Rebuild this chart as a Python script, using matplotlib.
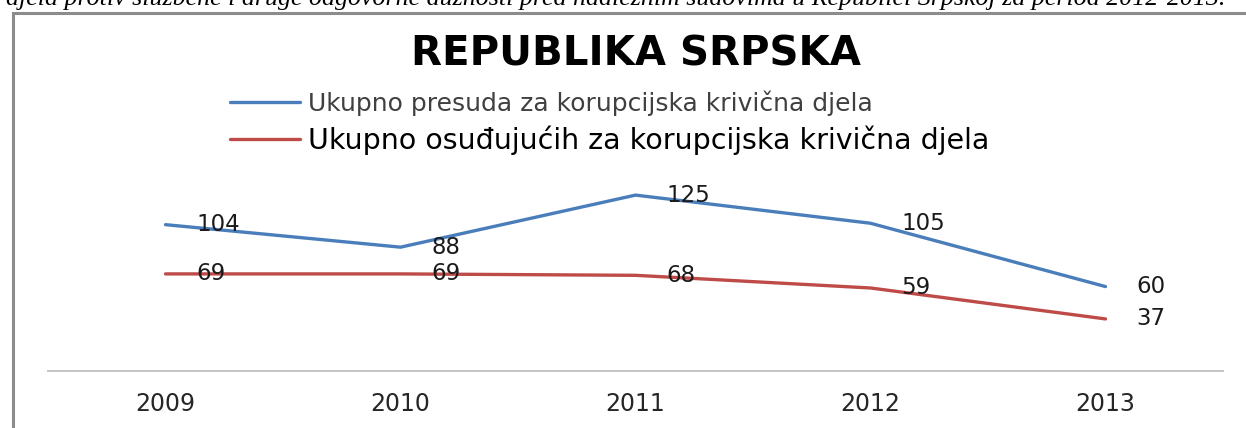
import matplotlib.pyplot as plt
from matplotlib.patches import Rectangle

# podaci
godine = ["2009", "2010", "2011", "2012", "2013"]
presude = [104, 88, 125, 105, 60]
osudjujuce = [69, 69, 68, 59, 37]
naziv_presude = "Ukupno presuda za korupcijska krivična djela"
naziv_osudjujuce = "Ukupno osuđujućih za korupcijska krivična djela"
naslov = "REPUBLIKA SRPSKA"
opis = ("djela protiv službene i druge odgovorne dužnosti pred nadležnim sudovima "
        "u Republici Srpskoj za period 2012-2013.")

W, H = 1246, 428
fig = plt.figure(figsize=(W / 100, H / 100), dpi=100)

# okvir grafikona (vidi se samo lijeva i gornja ivica)
fig.patches.append(Rectangle((13 / W, -0.2), 1.2, (H - 13) / H + 0.2,
                             transform=fig.transFigure, fill=False,
                             edgecolor="#8c8c8c", lw=2.2, clip_on=False))

# odsječeni tekst iznad grafikona
fig.text(6 / W, (H - 4.5) / H, opis, family="Liberation Serif", style="italic",
         fontsize=18.6, color="black", ha="left", va="baseline")

ax = fig.add_axes([48 / W, (H - 371) / H, (1223 - 48) / W, (371 - 174) / H])
x = list(range(len(godine)))
l1, = ax.plot(x, presude, color="#4A7EBB", lw=2.4, solid_capstyle="round")
l2, = ax.plot(x, osudjujuce, color="#BE4B48", lw=2.4, solid_capstyle="round")

for serija in (presude, osudjujuce):
    for i, v in enumerate(serija):
        ax.annotate(str(v), (i, v), xytext=(22, 0), textcoords="offset points",
                    ha="left", va="center", fontsize=16.5, color="#1a1a1a")

ax.set_xlim(-0.5, len(godine) - 0.5)
ax.set_ylim(0, 140)
ax.set_xticks(x)
ax.set_xticklabels(godine, fontsize=17, color="#262626")
ax.set_yticks([])
ax.tick_params(axis="x", length=0, pad=15)
for s in ("left", "right", "top"):
    ax.spines[s].set_visible(False)
ax.spines["bottom"].set_color("#bfbfbf")
ax.spines["bottom"].set_linewidth(1.3)

fig.text(636 / W, (H - 54) / H, naslov, fontsize=29, fontweight="bold",
         ha="center", va="center", color="black")

leg = fig.legend([l1, l2], [naziv_presude, naziv_osudjujuce], loc="upper left",
                 bbox_to_anchor=(230 / W, (H - 91) / H), frameon=False,
                 fontsize=20.5, handlelength=2.45, handletextpad=0.28,
                 labelspacing=0.3, borderpad=0, borderaxespad=0)
t1, t2 = leg.get_texts()
t1.set_fontsize(18)
t1.set_color("#404040")
t2.set_color("black")

fig.savefig("out.png", dpi=100)
